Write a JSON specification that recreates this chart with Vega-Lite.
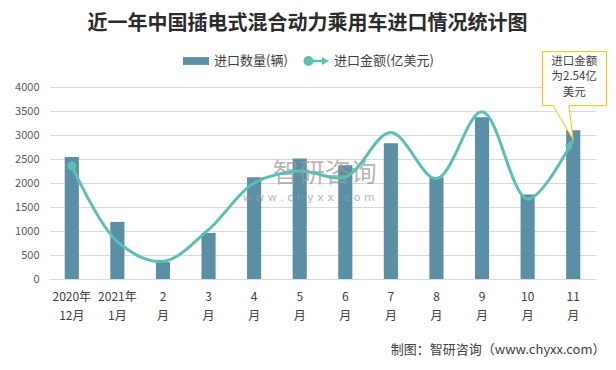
{
  "$schema": "https://vega.github.io/schema/vega-lite/v6.json",
  "width": 547,
  "height": 192,
  "autosize": {"type": "none"},
  "padding": {"left": 49, "top": 87, "right": 20, "bottom": 91},
  "background": "white",
  "config": {"view": {"stroke": null}, "font": "Noto Sans CJK SC"},
  "title": {
    "text": "近一年中国插电式混合动力乘用车进口情况统计图",
    "font": "Noto Sans CJK SC",
    "fontSize": 20,
    "fontWeight": "bold",
    "color": "#2b2b2b",
    "anchor": "middle",
    "frame": "group",
    "dx": -15,
    "offset": 14
  },
  "data": {
    "values": [
      {"month": "2020年|12月", "qty": 2540, "amt": 2.06},
      {"month": "2021年|1月", "qty": 1190, "amt": 0.68},
      {"month": "2|月", "qty": 350, "amt": 0.32},
      {"month": "3|月", "qty": 960, "amt": 0.90},
      {"month": "4|月", "qty": 2120, "amt": 1.75},
      {"month": "5|月", "qty": 2510, "amt": 1.97},
      {"month": "6|月", "qty": 2370, "amt": 1.86},
      {"month": "7|月", "qty": 2830, "amt": 2.67},
      {"month": "8|月", "qty": 2120, "amt": 1.83},
      {"month": "9|月", "qty": 3370, "amt": 3.05},
      {"month": "10|月", "qty": 1760, "amt": 1.46},
      {"month": "11|月", "qty": 3100, "amt": 2.54}
    ]
  },
  "encoding": {
    "x": {
      "field": "month",
      "type": "nominal",
      "sort": null,
      "scale": {"paddingInner": 0.69, "paddingOuter": 0.345},
      "axis": {
        "title": "制图：智研咨询（www.chyxx.com）",
        "labelExpr": "split(datum.label, '|')",
        "labelAngle": 0,
        "labelFont": "Noto Sans CJK SC",
        "labelFontSize": 12,
        "labelColor": "#404040",
        "labelLineHeight": 19,
        "labelPadding": 12,
        "ticks": false,
        "domainColor": "#d9d9d9",
        "titleFont": "Noto Sans CJK SC",
        "titleFontSize": 13,
        "titleFontWeight": "normal",
        "titleColor": "#404040",
        "titleX": 556,
        "titleY": 70,
        "titleAlign": "right",
        "titleBaseline": "middle"
      }
    }
  },
  "layer": [
    {
      "encoding": {
        "y": {
          "field": "qty",
          "type": "quantitative",
          "scale": {"domain": [0, 4000], "nice": false},
          "axis": {
            "values": [0, 500, 1000, 1500, 2000, 2500, 3000, 3500, 4000],
            "format": "d",
            "title": null,
            "labelFont": "Noto Sans CJK SC",
            "labelFontSize": 11,
            "labelColor": "#595959",
            "labelPadding": 10,
            "ticks": false,
            "domain": false,
            "gridColor": "#d9d9d9"
          }
        }
      },
      "layer": [
        {
          "mark": {"type": "bar"},
          "encoding": {
            "color": {
              "datum": "进口数量(辆)",
              "type": "nominal",
              "scale": {"domain": ["进口数量(辆)", "进口金额(亿美元)"], "range": ["#5b8fa6", "#5cbfb4"]},
              "legend": {
                "orient": "none",
                "legendX": 134,
                "legendY": -39,
                "direction": "horizontal",
                "title": null,
                "labelFont": "Noto Sans CJK SC",
                "labelFontSize": 13,
                "labelColor": "#404040",
                "symbolSize": 676,
                "labelOffset": 5,
                "columnPadding": 15,
                "padding": 0,
                "encode": {
                  "symbols": {
                    "update": {
                      "shape": {"signal": "datum.value === '进口数量(辆)' ? 'M-1,-0.3 L1,-0.3 L1,0.3 L-1,0.3 Z' : 'M-0.96,0 A0.38,0.38 0 1,1 -0.2,0 A0.38,0.38 0 1,1 -0.96,0 Z M-0.3,-0.1 L0.5,-0.1 L0.5,0.1 L-0.3,0.1 Z M0.46,-0.3 L1,0 L0.46,0.3 Z'"},
                      "fill": {"signal": "datum.value === '进口数量(辆)' ? '#5b8fa6' : '#5cbfb4'"},
                      "stroke": {"value": "transparent"},
                      "strokeWidth": {"value": 0},
                      "opacity": {"value": 1}
                    }
                  }
                }
              }
            }
          }
        },
        {
          "transform": [{"filter": "datum.month === '5|月'"}],
          "mark": {"type": "text", "text": "智研咨询", "font": "Noto Sans CJK SC", "fontSize": 26, "color": "#9a9a9a", "opacity": 0.7, "dx": 25, "baseline": "middle"},
          "encoding": {"y": {"datum": 2180}}
        },
        {
          "transform": [{"filter": "datum.month === '5|月'"}],
          "mark": {"type": "text", "text": "w w w . c h y x x . c o m", "font": "DejaVu Sans", "fontSize": 11, "color": "#9a9a9a", "opacity": 0.7, "dx": 9, "baseline": "middle"},
          "encoding": {"y": {"datum": 1680}}
        }
      ]
    },
    {
      "encoding": {
        "y": {
          "field": "amt",
          "type": "quantitative",
          "scale": {"domain": [0, 3.5], "nice": false},
          "axis": null
        }
      },
      "layer": [
        {
          "mark": {"type": "line", "interpolate": "catmull-rom", "strokeWidth": 3},
          "encoding": {"color": {"datum": "进口金额(亿美元)", "type": "nominal"}}
        },
        {
          "transform": [{"filter": "datum.month === '11|月'"}],
          "mark": {
            "type": "point",
            "shape": "M0,0 L-0.4,-0.68 L-0.614,-0.68 L-0.614,-1.76 L0.666,-1.76 L0.666,-0.68 L-0.088,-0.68 Z",
            "size": 10000,
            "filled": true,
            "fill": "white",
            "stroke": "#FFC000",
            "strokeWidth": 1,
            "opacity": 1
          }
        },
        {
          "transform": [{"filter": "datum.month === '11|月'"}],
          "mark": {
            "type": "text",
            "text": ["进口金额", "为2.54亿", "美元"],
            "font": "Noto Sans CJK SC",
            "fontSize": 11.5,
            "lineHeight": 15.5,
            "baseline": "middle",
            "dx": 1,
            "dy": -78,
            "color": "#404040"
          }
        },
        {
          "transform": [{"filter": "datum.month === '2020年|12月'"}],
          "mark": {"type": "point", "filled": true, "size": 80, "color": "#5cbfb4", "opacity": 1}
        },
        {
          "transform": [{"filter": "datum.month === '11|月'"}],
          "mark": {"type": "point", "shape": "M0,0 L-1,2.4 L1,2.4 Z", "size": 64, "angle": 35, "filled": true, "color": "#5cbfb4", "opacity": 1}
        }
      ]
    }
  ],
  "resolve": {"scale": {"y": "independent"}}
}
